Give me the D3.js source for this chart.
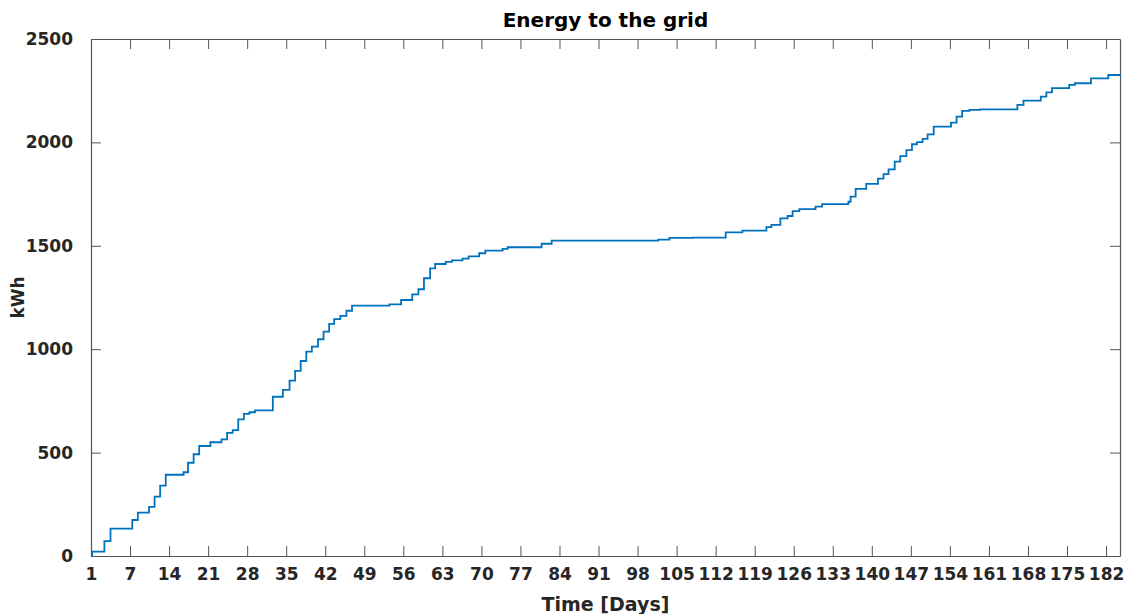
<!DOCTYPE html>
<html>
<head>
<meta charset="utf-8">
<script src="https://cdn.jsdelivr.net/npm/d3@7"></script>
<style>
  body { margin: 0; background: #fff; }
  text { font-family: "DejaVu Sans", sans-serif; font-weight: bold; }
</style>
</head>
<body>
<div id="chart"></div>
<script>
// Cumulative energy to the grid: day where each step happens and the kWh reached after it
var stepDays = [0, 0.2, 2.4, 3.5, 7.4, 8.4, 10.4, 11.4, 12.4, 13.4, 16.6, 17.4, 18.4, 19.4, 21.4,
  23.4, 24.4, 25.4, 26.4, 27.4, 28.4, 29.4, 32.6, 34.4, 35.6, 36.6, 37.6, 38.6, 39.6, 40.7,
  41.7, 42.7, 43.6, 44.7, 45.8, 46.8, 53.5, 55.6, 57.6, 58.7, 59.7, 60.8, 61.7, 63.6, 64.7,
  66.6, 67.7, 69.6, 70.7, 73.8, 74.7, 80.8, 82.6, 101.7, 103.7, 108, 113.8, 116.8, 121.1,
  122, 123.6, 124.9, 125.8, 127, 129.9, 131.1, 135.8, 136.2, 137.1, 139, 141.1, 142.1, 143,
  144.1, 145.1, 146.2, 147.2, 148.1, 149.1, 150, 151.1, 154.2, 155.2, 156.2, 157.5, 159.4,
  166.1, 167.2, 170.3, 171.3, 172.3, 175.4, 176.4, 179.3, 182.4, 184.5];
var energyKWh = [0, 21, 72, 132, 174, 210, 238, 287, 340, 393, 405, 451, 492, 532, 550,
  564, 595, 609, 661, 687, 695, 704, 770, 803, 848, 895, 943, 988, 1012, 1048,
  1085, 1122, 1145, 1161, 1186, 1211, 1217, 1238, 1265, 1290, 1343, 1391, 1412, 1422, 1430,
  1438, 1449, 1464, 1477, 1485, 1493, 1510, 1525, 1530, 1538, 1540, 1565, 1573, 1590,
  1601, 1633, 1644, 1668, 1677, 1689, 1702, 1713, 1738, 1775, 1799, 1825, 1847, 1870,
  1907, 1934, 1963, 1991, 2001, 2017, 2039, 2076, 2096, 2125, 2152, 2157, 2160,
  2181, 2202, 2221, 2242, 2262, 2278, 2286, 2310, 2326, 2331];

// x ticks sit every 7 days, first one labelled "1"
var xTickDays = [0, 7, 14, 21, 28, 35, 42, 49, 56, 63, 70, 77, 84, 91, 98, 105, 112, 119,
  126, 133, 140, 147, 154, 161, 168, 175, 182];
var xTickLabels = ["1", "7", "14", "21", "28", "35", "42", "49", "56", "63", "70", "77", "84",
  "91", "98", "105", "112", "119", "126", "133", "140", "147", "154", "161", "168", "175", "182"];
var yTicks = [0, 500, 1000, 1500, 2000, 2500];

var svgWidth = 1126, svgHeight = 614;
var margin = { top: 39, right: 6, bottom: 58, left: 91 };
var width = svgWidth - margin.left - margin.right;
var height = svgHeight - margin.top - margin.bottom;

var svg = d3.select("#chart").append("svg")
  .attr("width", svgWidth)
  .attr("height", svgHeight);

var chartGroup = svg.append("g")
  .attr("transform", `translate(${margin.left}, ${margin.top})`);

var xScale = d3.scaleLinear().domain([0, 184.5]).range([0, width]);
var yScale = d3.scaleLinear().domain([0, 2500]).range([height, 0]);

var axisColor = "#555";
var tickLen = 10;

// bottom / top axes (ticks point inwards like MATLAB)
var bottomAxis = d3.axisBottom(xScale).tickValues(xTickDays)
  .tickFormat((d, i) => xTickLabels[i]).tickSizeInner(-tickLen).tickSizeOuter(0).tickPadding(12);
var topAxis = d3.axisTop(xScale).tickValues(xTickDays)
  .tickFormat("").tickSizeInner(-tickLen).tickSizeOuter(0);
var leftAxis = d3.axisLeft(yScale).tickValues(yTicks).tickFormat(d3.format("d"))
  .tickSizeInner(-tickLen).tickSizeOuter(0).tickPadding(18);
var rightAxis = d3.axisRight(yScale).tickValues(yTicks)
  .tickFormat("").tickSizeInner(-tickLen).tickSizeOuter(0);

var gx = chartGroup.append("g").attr("transform", `translate(0, ${height})`).call(bottomAxis);
var gt = chartGroup.append("g").call(topAxis);
var gy = chartGroup.append("g").call(leftAxis);
var gr = chartGroup.append("g").attr("transform", `translate(${width}, 0)`).call(rightAxis);

[gx, gt, gy, gr].forEach(function(g) {
  g.selectAll("path").attr("stroke", axisColor).attr("stroke-width", 1.2);
  g.selectAll("line").attr("stroke", axisColor).attr("stroke-width", 1);
  g.selectAll("text").attr("fill", "#262626").attr("font-size", "17px")
    .attr("font-family", "DejaVu Sans, sans-serif").attr("font-weight", "bold");
});

// energy line
var points = stepDays.map((d, i) => [d, energyKWh[i]]);
var line = d3.line()
  .x(d => xScale(d[0]))
  .y(d => yScale(d[1]))
  .curve(d3.curveStepAfter);

chartGroup.append("path")
  .datum(points)
  .attr("d", line)
  .attr("fill", "none")
  .attr("stroke", "#0072BD")
  .attr("stroke-width", 1.8);

// title and axis labels
svg.append("text")
  .attr("x", margin.left + width / 2)
  .attr("y", 27)
  .attr("text-anchor", "middle")
  .attr("font-size", "20px")
  .attr("fill", "#000")
  .text("Energy to the grid");

svg.append("text")
  .attr("x", margin.left + width / 2)
  .attr("y", 611)
  .attr("text-anchor", "middle")
  .attr("font-size", "19px")
  .attr("fill", "#262626")
  .text("Time [Days]");

svg.append("text")
  .attr("transform", `translate(24, ${margin.top + height / 2}) rotate(-90)`)
  .attr("text-anchor", "middle")
  .attr("font-size", "17px")
  .attr("fill", "#262626")
  .text("kWh");
</script>
</body>
</html>
